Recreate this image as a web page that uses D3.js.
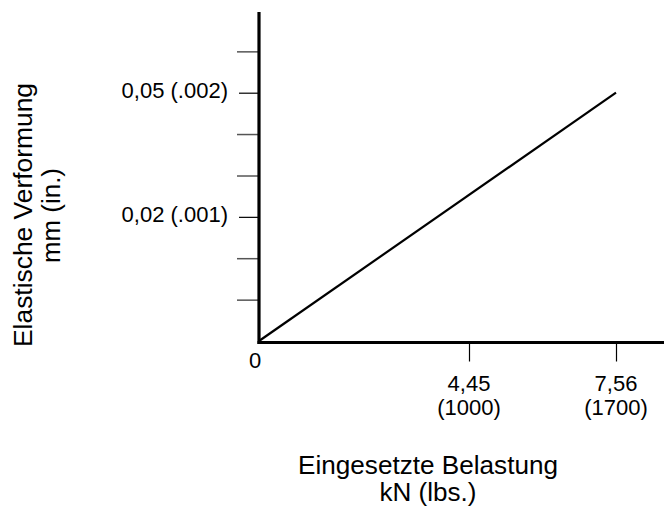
<!DOCTYPE html>
<html>
<head>
<meta charset="utf-8">
<script src="https://cdn.jsdelivr.net/npm/d3@7"></script>
<style>
  html, body { margin: 0; padding: 0; background: #fff; }
  svg { display: block; }
  text { font-family: "Liberation Sans", Arial, Helvetica, sans-serif; fill: #000; }
</style>
</head>
<body>
<svg id="chart" width="664" height="510"></svg>
<script>
// ---- data ----
const loadLbs = [0, 1700];
const deflectionIn = [0, 0.002];

const xTickValues = [1000, 1700];
const xTickLabelsKN = ["4,45", "7,56"];
const xTickLabelsLbs = ["(1000)", "(1700)"];

const yTickValues = [0.000333, 0.000667, 0.001, 0.001333, 0.001667, 0.002, 0.002333];
const yTickLabels = ["", "", "0,02 (.001)", "", "", "0,05 (.002)", ""];

const originLabel = "0";
const xTitle = ["Eingesetzte Belastung", "kN (lbs.)"];
const yTitle = ["Elastische Verformung", "mm (in.)"];

// ---- layout ----
const svg = d3.select("#chart");
const x = d3.scaleLinear().domain([0, 1930]).range([259, 664.3]);
const y = d3.scaleLinear().domain([0, 0.00265]).range([341, 12]);

// y axis ticks
const yAxis = d3.axisLeft(y)
  .tickValues(yTickValues)
  .tickSize(22)
  .tickPadding(9)
  .tickFormat((d, i) => yTickLabels[i]);
const gy = svg.append("g").attr("transform", `translate(${x(0)},0)`).call(yAxis);
gy.select(".domain").remove();
gy.selectAll(".tick line")
  .attr("stroke", (d, i) => yTickLabels[i] ? "#000" : "#555")
  .attr("stroke-width", (d, i) => yTickLabels[i] ? 1.2 : 1.5)
  .attr("x2", (d, i) => yTickLabels[i] ? -20 : -22);
gy.selectAll(".tick text")
  .attr("font-size", 22)
  .attr("font-family", "Liberation Sans, Arial, sans-serif")
  .attr("fill", "#000")
  .attr("dy", "0.22em")
  .attr("x", -31);

// x axis ticks
const xAxis = d3.axisBottom(x)
  .tickValues(xTickValues)
  .tickSize(19)
  .tickFormat("");
const gx = svg.append("g").attr("transform", `translate(0,${y(0) + 1.5})`).call(xAxis);
gx.select(".domain").remove();
gx.selectAll(".tick line").attr("stroke", "#000").attr("stroke-width", 1.2);

// x tick labels (two lines)
const xl = svg.append("g");
xTickValues.forEach((v, i) => {
  xl.append("text").attr("x", x(v)).attr("y", 391)
    .attr("text-anchor", "middle").attr("font-size", 22).text(xTickLabelsKN[i]);
  xl.append("text").attr("x", x(v)).attr("y", 415)
    .attr("text-anchor", "middle").attr("font-size", 22).text(xTickLabelsLbs[i]);
});

// main axes lines (thick)
svg.append("line")
  .attr("x1", x(0)).attr("x2", x(0))
  .attr("y1", y.range()[1]).attr("y2", y(0) + 3)
  .attr("stroke", "#000").attr("stroke-width", 3.2);
svg.append("line")
  .attr("x1", x(0) - 1.5).attr("x2", x.range()[1])
  .attr("y1", y(0) + 1.5).attr("y2", y(0) + 1.5)
  .attr("stroke", "#000").attr("stroke-width", 3.2);

// data line
const pts = loadLbs.map((d, i) => [d, deflectionIn[i]]);
svg.append("path")
  .datum(pts)
  .attr("fill", "none")
  .attr("stroke", "#000")
  .attr("stroke-width", 2.2)
  .attr("d", d3.line().x(d => x(d[0])).y(d => y(d[1])));

// origin label
svg.append("text").attr("x", 255).attr("y", 368)
  .attr("text-anchor", "middle").attr("font-size", 22).text(originLabel);

// x title
svg.append("text").attr("x", 428).attr("y", 474)
  .attr("text-anchor", "middle").attr("font-size", 25)
  .attr("textLength", 260).attr("lengthAdjust", "spacingAndGlyphs")
  .text(xTitle[0]);
svg.append("text").attr("x", 428).attr("y", 501)
  .attr("text-anchor", "middle").attr("font-size", 25)
  .attr("textLength", 97).attr("lengthAdjust", "spacingAndGlyphs")
  .text(xTitle[1]);

// y title (rotated)
svg.append("text")
  .attr("transform", "translate(31.5,215) rotate(-90)")
  .attr("text-anchor", "middle").attr("font-size", 25)
  .attr("textLength", 264).attr("lengthAdjust", "spacingAndGlyphs")
  .text(yTitle[0]);
svg.append("text")
  .attr("transform", "translate(60,215.5) rotate(-90)")
  .attr("text-anchor", "middle").attr("font-size", 25)
  .attr("textLength", 95).attr("lengthAdjust", "spacingAndGlyphs")
  .text(yTitle[1]);
</script>
</body>
</html>
